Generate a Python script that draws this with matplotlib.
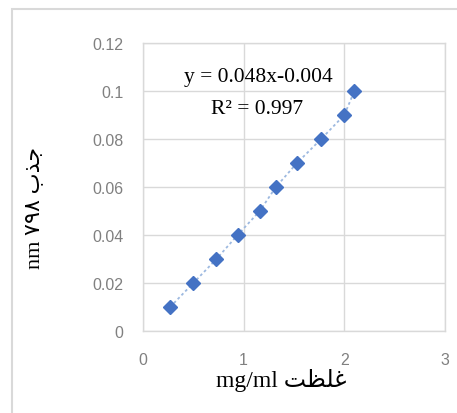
import matplotlib
matplotlib.use("Agg")
import matplotlib.pyplot as plt
from matplotlib.patches import Rectangle

# Data
concentration = [0.27, 0.50, 0.73, 0.94, 1.16, 1.32, 1.53, 1.77, 2.00, 2.10]
absorbance = [0.01, 0.02, 0.03, 0.04, 0.05, 0.06, 0.07, 0.08, 0.09, 0.10]
x_ticks = [0, 1, 2, 3]
y_ticks = [0, 0.02, 0.04, 0.06, 0.08, 0.1, 0.12]
y_tick_labels = ["0", "0.02", "0.04", "0.06", "0.08", "0.1", "0.12"]
equation_text = "y = 0.048x-0.004"
r2_text = "R\u00b2 = 0.997"
# Persian labels (written in Arabic presentation forms, visual order,
# because matplotlib does no right-to-left shaping)
x_label = "mg/ml \uFE96\uFEC8\uFEE0\uFECF"          # غلظت mg/ml
y_label = "nm \u06F7\u06F9\u06F8 \uFE8F\uFEAC\uFE9F"  # جذب ۷۹۸ nm

W, H = 457, 414
fig = plt.figure(figsize=(W / 100, H / 100), dpi=100)
fig.patch.set_facecolor("white")

# outer chart-area border
fig.patches.append(Rectangle((12 / W, -0.05), 1.2, 1 - 10 / H + 0.05,
                             transform=fig.transFigure, fill=False,
                             edgecolor="#D9D9D9", linewidth=1.5))

ax = fig.add_axes([143 / W, 1 - 332 / H, (445 - 143) / W, (332 - 44) / H])
ax.set_xlim(0, 3)
ax.set_ylim(0, 0.12)
ax.set_xticks(x_ticks)
ax.set_yticks(y_ticks)
ax.set_yticklabels(y_tick_labels)
ax.grid(True, color="#D9D9D9", linewidth=1.0)
ax.set_axisbelow(True)
for s in ax.spines.values():
    s.set_color("#D9D9D9")
    s.set_linewidth(1.0)
ax.tick_params(length=0, colors="#808080", labelsize=11.5)
ax.tick_params(axis="y", pad=14)
ax.tick_params(axis="x", pad=15)
for lbl in ax.get_xticklabels() + ax.get_yticklabels():
    lbl.set_family("Liberation Sans")

ax.plot(concentration, absorbance, linestyle=(0, (1.5, 1.5)), color="#9DB9E0",
        linewidth=1.3, zorder=2)
ax.plot(concentration, absorbance, linestyle="none", marker="D", markersize=7.5,
        color="#4472C4", markeredgecolor="#4472C4", zorder=3)

fam = ["Liberation Serif", "DejaVu Sans"]
ax.text(258 / W, 1 - 78 / H, equation_text, transform=fig.transFigure,
        ha="center", va="center", fontsize=15.5, family=fam, color="black")
ax.text(257 / W, 1 - 110 / H, r2_text, transform=fig.transFigure,
        ha="center", va="center", fontsize=15.5, family=fam, color="black")

fig.text(281 / W, 1 - 381 / H, x_label, ha="center", va="center",
         fontsize=17, family=fam, color="black")
fig.text(35 / W, 1 - 208 / H, y_label, ha="center", va="center",
         rotation=90, fontsize=16, family=fam, color="black")

fig.savefig("out.png", dpi=100)
